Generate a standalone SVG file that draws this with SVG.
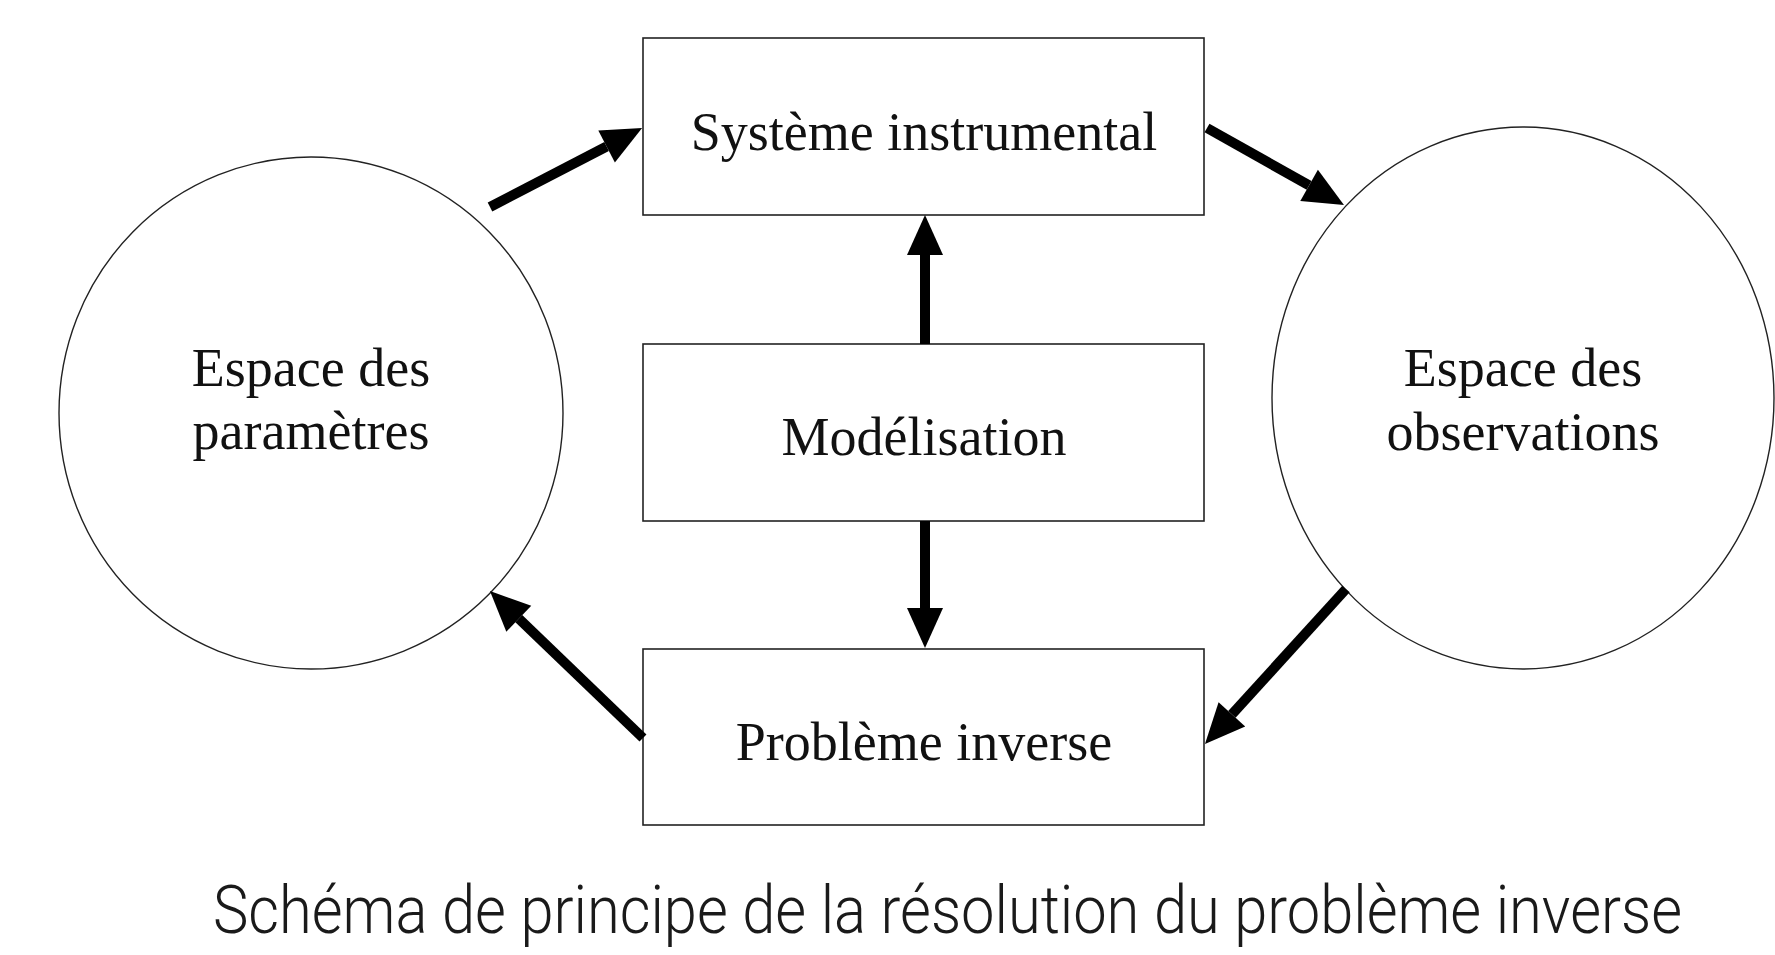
<svg xmlns="http://www.w3.org/2000/svg" width="1775" height="955" viewBox="0 0 1775 955">
<style>
.box{fill:#fff;stroke:#222;stroke-width:1.6}
.circ{fill:#fff;stroke:#222;stroke-width:1.4}
.lbl{font-family:"Liberation Serif","Times New Roman",serif;font-size:54px;fill:#111;text-anchor:middle}
.arr{stroke:#000;stroke-width:10;fill:none;marker-end:url(#head)}
.cap{font-family:Roboto,"Open Sans",sans-serif;font-weight:300;font-size:67px;fill:#1a1a1a}
</style>
<defs>
<marker id="head" markerUnits="userSpaceOnUse" markerWidth="42" markerHeight="38" refX="0" refY="18" orient="auto" overflow="visible">
<path d="M0,0 L40,18 L0,36 Z" fill="#000"/>
</marker>
</defs>
<rect width="1775" height="955" fill="#fff"/>
<g id="params">
<ellipse class="circ" cx="311" cy="413" rx="252" ry="256"/>
<text class="lbl" x="311" y="386">Espace des</text>
<text class="lbl" x="311" y="449">paramètres</text>
</g>
<g id="observations">
<ellipse class="circ" cx="1523" cy="398" rx="251" ry="271"/>
<text class="lbl" x="1523" y="386">Espace des</text>
<text class="lbl" x="1523" y="450">observations</text>
</g>
<g id="systeme">
<rect class="box" x="643" y="38" width="561" height="177"/>
<text class="lbl" x="924" y="150">Système instrumental</text>
</g>
<g id="modelisation">
<rect class="box" x="643" y="344" width="561" height="177"/>
<text class="lbl" x="924" y="455">Modélisation</text>
</g>
<g id="probleme">
<rect class="box" x="643" y="649" width="561" height="176"/>
<text class="lbl" x="924" y="760">Problème inverse</text>
</g>
<g id="connectors">
<line class="arr" x1="490" y1="207" x2="606.6" y2="146.5"/>
<line class="arr" x1="1207" y1="128" x2="1309.1" y2="185.4"/>
<line class="arr" x1="925" y1="344" x2="925" y2="255"/>
<line class="arr" x1="925" y1="521" x2="925" y2="608"/>
<line class="arr" x1="1346" y1="589" x2="1231.9" y2="714.4"/>
<line class="arr" x1="643" y1="738" x2="518.8" y2="618.7"/>
</g>
<text class="cap" transform="translate(213,933) scale(0.83,1)" x="0" y="0" textLength="1770" lengthAdjust="spacingAndGlyphs">Schéma de principe de la résolution du problème inverse</text>
</svg>
